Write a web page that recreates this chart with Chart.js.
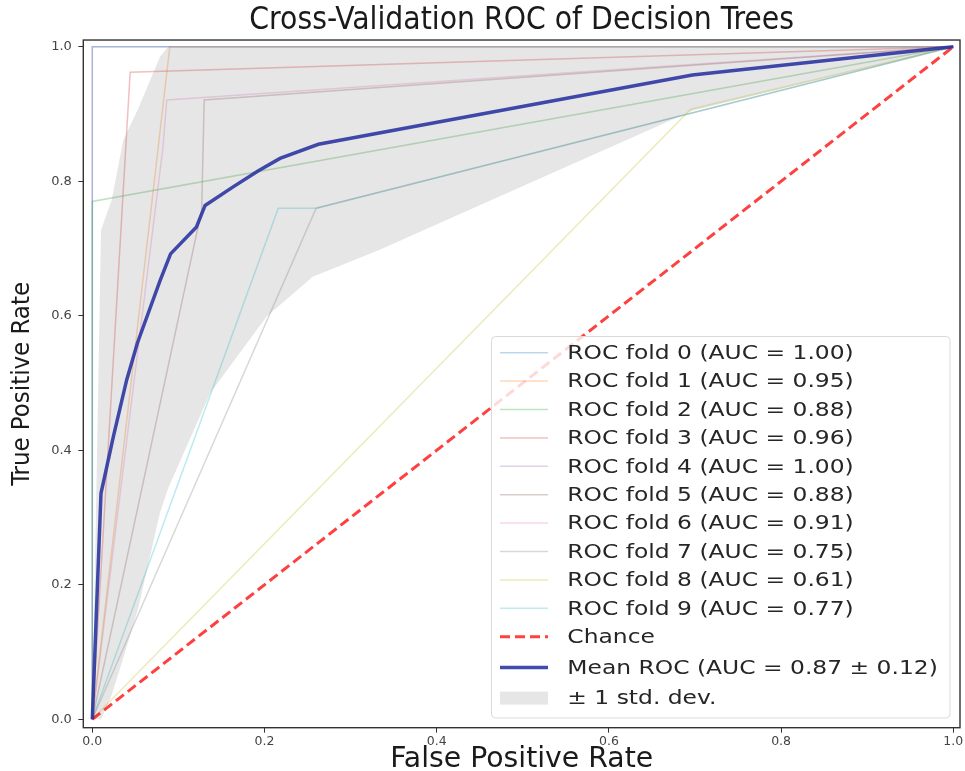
<!DOCTYPE html>
<html>
<head>
<meta charset="utf-8">
<script src="https://cdn.jsdelivr.net/npm/chart.js@4.4.1/dist/chart.umd.min.js"></script>
<style>
  html, body { margin: 0; padding: 0; background: #fff; }
</style>
</head>
<body>
<canvas id="rocChart" width="965" height="771"></canvas>
<script>
// fold curves
const foldLabels = [
    "ROC fold 0 (AUC = 1.00)", "ROC fold 1 (AUC = 0.95)", "ROC fold 2 (AUC = 0.88)",
    "ROC fold 3 (AUC = 0.96)", "ROC fold 4 (AUC = 1.00)", "ROC fold 5 (AUC = 0.88)",
    "ROC fold 6 (AUC = 0.91)", "ROC fold 7 (AUC = 0.75)", "ROC fold 8 (AUC = 0.61)",
    "ROC fold 9 (AUC = 0.77)"
];
const foldColors = [
    "rgba(31,119,180,0.3)", "rgba(255,127,14,0.3)", "rgba(44,160,44,0.3)",
    "rgba(214,39,40,0.3)", "rgba(148,103,189,0.3)", "rgba(140,86,75,0.3)",
    "rgba(227,119,194,0.3)", "rgba(127,127,127,0.3)", "rgba(188,189,34,0.3)",
    "rgba(23,190,207,0.3)"
];
const foldFpr = [
    [0, 0, 1],
    [0, 0.09, 1],
    [0, 0, 1],
    [0, 0.044, 1],
    [0, 0, 1],
    [0, 0.127, 0.13, 1],
    [0, 0.082, 0.0865, 1],
    [0, 0.26, 1],
    [0, 0.695, 1],
    [0, 0.216, 0.26, 1]
];
const foldTpr = [
    [0, 1, 1],
    [0, 1, 1],
    [0, 0.77, 1],
    [0, 0.962, 1],
    [0, 1, 1],
    [0, 0.757, 0.921, 1],
    [0, 0.85, 0.921, 1],
    [0, 0.76, 1],
    [0, 0.907, 1],
    [0, 0.76, 0.76, 1]
];

const chanceFpr = [0, 1];
const chanceTpr = [0, 1];

const meanFpr = [0, 0.0101, 0.0244, 0.040, 0.0525, 0.0786, 0.0909, 0.121, 0.131, 0.164, 0.192, 0.218, 0.2626, 0.697, 1];
const meanTpr = [0, 0.336, 0.42, 0.505, 0.56, 0.652, 0.692, 0.732, 0.764, 0.792, 0.815, 0.834, 0.855, 0.958, 1];

const bandFpr   = [0, 0.0101, 0.0225, 0.036, 0.0534, 0.0786, 0.088, 0.137, 0.2025, 0.256, 0.334, 0.367, 0.697, 1];
const bandUpper = [0, 0.727, 0.772, 0.861, 0.908, 0.985, 1, 1, 1, 1, 1, 1, 1, 1];
const bandLower = [0, 0, 0.036, 0.091, 0.165, 0.307, 0.343, 0.485, 0.599, 0.658, 0.698, 0.717, 0.905, 1];

const xTicks = [0, 0.2, 0.4, 0.6, 0.8, 1.0];
const yTicks = [0, 0.2, 0.4, 0.6, 0.8, 1.0];

function pts(xs, ys) {
    return xs.map((x, i) => ({ x: x, y: ys[i] }));
}

const datasets = foldLabels.map((label, i) => ({
    label: label,
    data: pts(foldFpr[i], foldTpr[i]),
    borderColor: foldColors[i],
    borderWidth: 1.5,
    order: 4
}));
datasets.push({
    label: "Chance",
    data: pts(chanceFpr, chanceTpr),
    borderColor: "rgba(255,0,0,0.75)",
    borderWidth: 3,
    borderDash: [10, 5],
    order: 2
});
datasets.push({
    label: "Mean ROC (AUC = 0.87 \u00b1 0.12)",
    data: pts(meanFpr, meanTpr),
    borderColor: "rgba(40,50,160,0.88)",
    borderWidth: 3.5,
    order: 1
});
datasets.push({
    label: "\u00b1 1 std. dev.",
    data: pts(bandFpr, bandUpper),
    borderColor: "rgba(0,0,0,0)",
    borderWidth: 0,
    backgroundColor: "rgba(128,128,128,0.2)",
    fill: "+1",
    order: 3
});
datasets.push({
    label: "",
    data: pts(bandFpr, bandLower),
    borderColor: "rgba(0,0,0,0)",
    borderWidth: 0,
    fill: false,
    order: 3
});

// four spines round the plot area
const frame = {
    id: "frame",
    afterDatasetsDraw(chart) {
        const { ctx, chartArea: a } = chart;
        ctx.save();
        ctx.strokeStyle = "#333";
        ctx.lineWidth = 1.4;
        ctx.strokeRect(a.left, a.top, a.right - a.left, a.bottom - a.top);
        ctx.restore();
    }
};

// legend box inside the plot, lower right
const legendBox = {
    id: "legendBox",
    afterDraw(chart) {
        const ctx = chart.ctx;
        const items = chart.data.datasets.filter(d => d.label);
        ctx.save();
        ctx.beginPath();
        ctx.roundRect(491.5, 336.5, 458.5, 381.5, 4);
        ctx.fillStyle = "rgba(255,255,255,0.8)";
        ctx.fill();
        ctx.strokeStyle = "#d9d9d9";
        ctx.lineWidth = 1;
        ctx.stroke();
        items.forEach((d, i) => {
            const y = 352.7 + 28.4 * i + (i > 10 ? 2.3 * (i - 10) : 0);
            if (d.fill) {
                ctx.fillStyle = d.backgroundColor;
                ctx.fillRect(500, y - 6.5, 48, 13);
            } else {
                ctx.beginPath();
                ctx.setLineDash(d.borderDash || []);
                ctx.strokeStyle = d.borderColor;
                ctx.lineWidth = d.borderWidth;
                ctx.moveTo(500, y);
                ctx.lineTo(548, y);
                ctx.stroke();
                ctx.setLineDash([]);
            }
            ctx.save();
            ctx.translate(567.3, y);
            ctx.scale(1.17, 1);
            ctx.fillStyle = "#262626";
            ctx.font = '20px "DejaVu Sans"';
            ctx.textBaseline = "middle";
            ctx.fillText(d.label, 0, 1);
            ctx.restore();
        });
        ctx.restore();
    }
};

const ctx = document.getElementById("rocChart").getContext("2d");
new Chart(ctx, {
    type: "line",
    data: { datasets: datasets },
    plugins: [frame, legendBox],
    options: {
        responsive: false,
        animation: false,
        layout: { padding: { left: 0, right: 5, top: 0, bottom: 0 } },
        elements: {
            point: { radius: 0, hoverRadius: 0 },
            line: { tension: 0 }
        },
        plugins: {
            legend: { display: false },
            tooltip: { enabled: false },
            title: {
                display: true,
                fullSize: false,
                text: "Cross-Validation ROC of Decision Trees",
                color: "#1a1a1a",
                font: { family: '"DejaVu Sans Condensed", "Liberation Sans Narrow", "DejaVu Sans"', size: 31.5, weight: "normal", lineHeight: 1.15 },
                padding: { top: 2.5, bottom: 1.3 }
            }
        },
        scales: {
            x: {
                type: "linear",
                min: -0.01045,
                max: 1.0078,
                afterBuildTicks: s => { s.ticks = xTicks.map(v => ({ value: v })); },
                afterFit: s => { s.height = 43.3; },
                grid: { drawOnChartArea: false, drawTicks: true, tickLength: 5, color: "#333" },
                border: { display: false },
                ticks: {
                    padding: 1.5,
                    color: "#444",
                    font: { family: '"DejaVu Sans"', size: 12.5 },
                    callback: v => v.toFixed(1)
                },
                title: {
                    display: true,
                    text: "False Positive Rate",
                    color: "#1a1a1a",
                    font: { family: '"DejaVu Sans"', size: 28.3, lineHeight: 0.8 },
                    padding: { top: 0, bottom: 0 }
                }
            },
            y: {
                type: "linear",
                min: -0.0125,
                max: 1.010,
                afterBuildTicks: s => { s.ticks = yTicks.map(v => ({ value: v })); },
                afterFit: s => { s.width = 83.3; },
                grid: { drawOnChartArea: false, drawTicks: true, tickLength: 5, color: "#333" },
                border: { display: false },
                ticks: {
                    padding: 6.5,
                    color: "#444",
                    font: { family: '"DejaVu Sans"', size: 13 },
                    callback: v => v.toFixed(1)
                },
                title: {
                    display: true,
                    text: "True Positive Rate",
                    color: "#1a1a1a",
                    font: { family: '"DejaVu Sans Condensed", "Liberation Sans Narrow", "DejaVu Sans"', size: 25.5, lineHeight: 1 },
                    padding: { top: 10, bottom: 0 }
                }
            }
        }
    }
});
</script>
</body>
</html>
